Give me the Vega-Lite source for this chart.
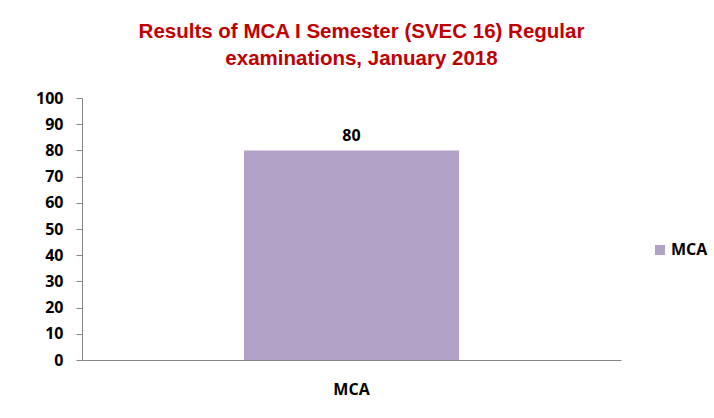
{
  "$schema": "https://vega.github.io/schema/vega-lite/v6.json",
  "width": 539,
  "height": 262,
  "autosize": "none",
  "padding": {"left": 82, "top": 98, "right": 93, "bottom": 58},
  "background": "white",
  "title": {
    "text": ["Results of  MCA I Semester (SVEC 16) Regular", "examinations,  January 2018"],
    "color": "#c00000",
    "font": "Liberation Sans",
    "fontWeight": "bold",
    "fontSize": 20.5,
    "lineHeight": 27,
    "anchor": "middle",
    "dx": 10,
    "offset": 21
  },
  "config": {
    "view": {"stroke": null},
    "axis": {"labelFont": "Open Sans", "labelFontWeight": "bold", "labelFontSize": 15, "labelColor": "#000000", "domainColor": "#868686", "tickColor": "#868686", "grid": false, "title": null}
  },
  "data": {"values": [{"category": "MCA", "value": 80}]},
  "encoding": {
    "x": {"field": "category", "type": "nominal", "scale": {"paddingInner": 0, "paddingOuter": 0.7535}, "axis": {"labelAngle": 0, "ticks": false, "labelPadding": 21, "labelFontSize": 16}},
    "y": {"field": "value", "type": "quantitative", "scale": {"domain": [0, 100]}, "axis": {"values": [0,10,20,30,40,50,60,70,80,90,100], "tickSize": 6, "labelPadding": 13, "labelFontSize": 16}}
  },
  "layer": [
    {
      "mark": {"type": "bar", "color": "#b3a2c7"},
      "encoding": {
        "color": {"field": "category", "type": "nominal", "scale": {"range": ["#b3a2c7"]},
          "legend": {"title": null, "orient": "none", "legendX": 570, "legendY": 144, "symbolType": "square", "symbolSize": 100, "symbolStrokeWidth": 0, "labelFont": "Open Sans", "labelFontWeight": "bold", "labelFontSize": 16, "labelColor": "#000000", "labelOffset": 3}}
      }
    },
    {
      "mark": {"type": "text", "dy": -14, "font": "Open Sans", "fontWeight": "bold", "fontSize": 16, "color": "#000000"},
      "encoding": {"text": {"field": "value", "type": "quantitative"}}
    }
  ]
}
